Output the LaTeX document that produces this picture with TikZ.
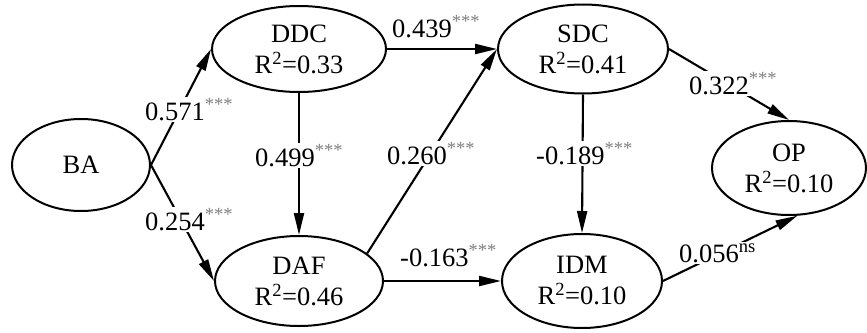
\documentclass[tikz,border=0pt]{standalone}
\usepackage{fontspec}
\setmainfont{Liberation Serif}
\usetikzlibrary{shapes.geometric,arrows.meta}
\newcommand{\pstars}[1]{\textsuperscript{\color{gray}#1}}
\begin{document}
\begin{tikzpicture}[x=1pt,y=-1pt,
  var/.style={ellipse, draw, line width=2pt, inner sep=0pt, align=center,
    font=\fontsize{26.5}{31}\selectfont},
  conn/.style={line width=2.1pt, -{Triangle[length=22pt,width=10pt]}},
  lab/.style={fill=white, inner sep=2pt, anchor=base west,
    font=\fontsize{26.5}{28}\selectfont}
]
\useasboundingbox (0,0) rectangle (867,332);
\node[var, minimum width=138pt, minimum height=92pt] (BA) at (81,165) {BA};
\node[var, minimum width=174pt, minimum height=86pt] (DDC) at (299,49) {DDC\\R\textsuperscript{2}=0.33};
\node[var, minimum width=168pt, minimum height=90pt] (DAF) at (299,281) {DAF\\R\textsuperscript{2}=0.46};
\node[var, minimum width=170pt, minimum height=89pt] (SDC) at (583,49) {SDC\\R\textsuperscript{2}=0.41};
\node[var, minimum width=160pt, minimum height=94pt] (IDM) at (582,281) {IDM\\R\textsuperscript{2}=0.10};
\node[var, minimum width=154pt, minimum height=94pt] (OP) at (789,168) {OP\\R\textsuperscript{2}=0.10};

\draw[conn] (BA.east) -- (DDC.west);
\draw[conn] (BA.east) -- (DAF.west);
\draw[conn] (DDC.east) -- (SDC.west);
\draw[conn] (DDC.south) -- (DAF.north);
\draw[conn] (DAF.22) -- (SDC.west);
\draw[conn] (DAF.east) -- (IDM.west);
\draw[conn] (SDC.south) -- (IDM.north);
\draw[conn] (SDC.east) -- (OP.north);
\draw[conn] (IDM.east) -- (OP.280);

\node[lab] (l571) at (143,120) {0.571\pstars{***}};
\node[lab] (l254) at (143,230) {0.254\pstars{***}};
\node[lab] (l439) at (390,37) {0.439\pstars{***}};
\node[lab] (l499) at (253,166) {0.499\pstars{***}};
\node[lab] (l260) at (385,164) {0.260\pstars{***}};
\node[lab] (l163) at (398,266) {-0.163\pstars{***}};
\node[lab] (l189) at (534,164) {-0.189\pstars{***}};
\node[lab] (l322) at (687,94) {0.322\pstars{***}};
\node[lab] (l056) at (677,262) {0.056\textsuperscript{ns}};
\end{tikzpicture}
\end{document}
